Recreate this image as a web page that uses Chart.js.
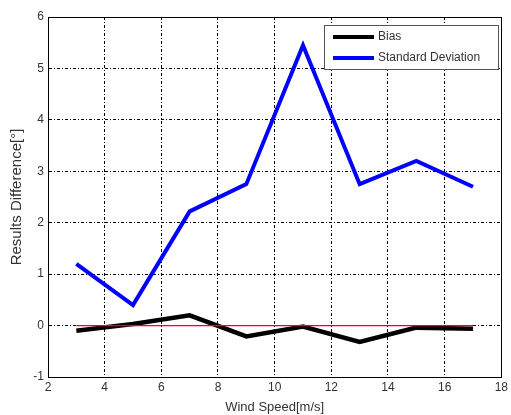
<!DOCTYPE html>
<html>
<head>
<meta charset="utf-8">
<script src="https://cdn.jsdelivr.net/npm/chart.js@4"></script>
<style>
html,body{margin:0;padding:0;background:#fff;}
#wrap{width:511px;height:415px;position:relative;}
</style>
</head>
<body>
<div id="wrap"><canvas id="c" width="511" height="415"></canvas></div>
<script>
const windSpeed = [3, 5, 7, 9, 11, 13, 15, 17];
const bias = [-0.1, 0.03, 0.2, -0.21, -0.02, -0.32, -0.04, -0.06];
const stdDev = [1.2, 0.4, 2.22, 2.75, 5.45, 2.75, 3.2, 2.7];
const zeroLine = [[3, 0], [17, 0]];
const seriesNames = ['Bias', 'Standard Deviation'];
const xTitle = 'Wind Speed[m/s]';
const yTitle = 'Results Difference[°]';

const toPts = (xs, ys) => xs.map((x, i) => ({x: x, y: ys[i]}));
const FONT = '"Liberation Sans", Arial, sans-serif';

const boxPlugin = {
  id: 'boxAndLegend',
  afterDraw(chart) {
    const {ctx, chartArea: a} = chart;
    ctx.save();
    ctx.strokeStyle = '#000';
    ctx.lineWidth = 1;
    ctx.setLineDash([]);
    ctx.strokeRect(Math.round(a.left) + 0.5, Math.round(a.top) + 0.5, Math.round(a.right - a.left), Math.round(a.bottom - a.top));
    // legend
    const lx = 324, ly = 25, lw = 174, lh = 44;
    ctx.fillStyle = '#fff';
    ctx.fillRect(lx, ly, lw, lh);
    ctx.strokeStyle = '#555';
    ctx.strokeRect(lx + 0.5, ly + 0.5, lw, lh);
    const ds = chart.data.datasets;
    ctx.font = '12px ' + FONT;
    ctx.textBaseline = 'middle';
    for (let i = 0; i < 2; i++) {
      const yy = ly + 12 + i * 21;
      ctx.strokeStyle = ds[i].borderColor;
      ctx.lineWidth = 4;
      ctx.beginPath();
      ctx.moveTo(lx + 9, yy);
      ctx.lineTo(lx + 50, yy);
      ctx.stroke();
      ctx.fillStyle = '#333';
      ctx.fillText(ds[i].label, lx + 54, yy);
    }
    ctx.restore();
  }
};

new Chart(document.getElementById('c'), {
  type: 'line',
  data: {
    datasets: [
      {label: seriesNames[0], data: toPts(windSpeed, bias), borderColor: '#000000', borderWidth: 4.5, pointRadius: 0, tension: 0, order: 1},
      {label: seriesNames[1], data: toPts(windSpeed, stdDev), borderColor: '#0000ff', borderWidth: 4, pointRadius: 0, tension: 0, order: 2},
      {label: 'zero', data: zeroLine.map(p => ({x: p[0], y: p[1]})), borderColor: '#e01010', borderWidth: 1.2, pointRadius: 0, order: 0}
    ]
  },
  options: {
    responsive: false,
    animation: false,
    layout: {padding: {top: 17, right: 7, left: 0, bottom: 0}},
    plugins: {legend: {display: false}, tooltip: {enabled: false}},
    scales: {
      x: {
        type: 'linear', min: 2, max: 18,
        ticks: {stepSize: 2, color: '#333', font: {family: FONT, size: 12}, padding: 3, maxRotation: 0},
        grid: {color: c => (c.tick && (c.tick.value === 2 || c.tick.value === 18)) ? 'rgba(0,0,0,0)' : '#000', lineWidth: 1, drawTicks: false},
        border: {display: true, color: '#000', dash: [3, 2, 1, 2]},
        title: {display: true, text: xTitle, color: '#333', font: {family: FONT, size: 13}, padding: {top: 0, bottom: 0}},
        afterFit(axis) { axis.height = 38; }
      },
      y: {
        min: -1, max: 6,
        ticks: {stepSize: 1, color: '#333', font: {family: FONT, size: 12}, padding: 4},
        grid: {color: c => (c.tick && (c.tick.value === -1 || c.tick.value === 6)) ? 'rgba(0,0,0,0)' : '#000', lineWidth: 1, drawTicks: false},
        border: {display: true, color: '#000', dash: [3, 2, 1, 2]},
        title: {display: true, text: yTitle, color: '#333', font: {family: FONT, size: 15}, padding: {top: 8, bottom: 0}},
        afterFit(axis) { axis.width = 48; }
      }
    }
  },
  plugins: [boxPlugin]
});
</script>
</body>
</html>
